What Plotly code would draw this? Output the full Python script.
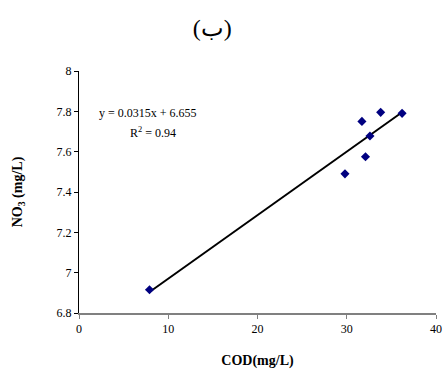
import plotly.graph_objects as go

cod = [7.9, 29.8, 31.7, 32.1, 32.6, 33.8, 36.2]
no3 = [6.915, 7.49, 7.75, 7.575, 7.678, 7.795, 7.79]
slope = 0.0315
intercept = 6.655
r2 = 0.94

x_ticks = [0, 10, 20, 30, 40]
y_ticks = [6.8, 7.0, 7.2, 7.4, 7.6, 7.8, 8.0]
y_tick_labels = ["6.8", "7", "7.2", "7.4", "7.6", "7.8", "8"]

xmin, xmax = min(cod), max(cod)
line_x = [xmin, xmax]
line_y = [slope * v + intercept for v in line_x]

font = "Times New Roman"

fig = go.Figure()
fig.add_trace(go.Scatter(x=line_x, y=line_y, mode="lines",
                         line=dict(color="black", width=2), showlegend=False))
fig.add_trace(go.Scatter(x=cod, y=no3, mode="markers",
                         marker=dict(symbol="diamond", size=7, color="#000080"),
                         showlegend=False))

fig.add_annotation(x=0.05, y=0.826, xref="paper", yref="paper",
                   text=f"y = {slope}x + {intercept}", showarrow=False,
                   xanchor="left", yanchor="middle",
                   font=dict(family=font, size=12, color="black"))
fig.add_annotation(x=0.137, y=0.744, xref="paper", yref="paper",
                   text=f"R<sup>2</sup> = {r2}", showarrow=False,
                   xanchor="left", yanchor="middle",
                   font=dict(family=font, size=12, color="black"))

fig.update_layout(
    width=443, height=372,
    margin=dict(l=79, r=7, t=71, b=59, autoexpand=False),
    paper_bgcolor="white", plot_bgcolor="white",
    font=dict(family=font, size=12, color="black"),
    title=dict(text="(ب)", x=0.479, xanchor="center", y=0.927, yanchor="middle",
               font=dict(family=font, size=24, color="black")),
    xaxis=dict(range=[0, 40], tickvals=x_ticks, showgrid=False, zeroline=False,
               automargin=False,
               showline=True, linecolor="#808080", linewidth=1.5,
               ticks="outside", ticklen=4, tickcolor="#808080",
               title=dict(text="<b>COD(mg/L)</b>", font=dict(family=font, size=14), standoff=20)),
    yaxis=dict(range=[6.8, 8.0], tickvals=y_ticks, ticktext=y_tick_labels,
               showgrid=False, zeroline=False, automargin=False,
               showline=True, linecolor="black", linewidth=1,
               ticks="outside", ticklen=4, tickcolor="black",
               title=dict(text="<b>NO<sub>3</sub> (mg/L)</b>", font=dict(family=font, size=14), standoff=30)),
)

fig.write_html("out.html", config={"displayModeBar": False},
               post_script="document.body.style.margin='0';document.body.style.overflow='hidden';")
